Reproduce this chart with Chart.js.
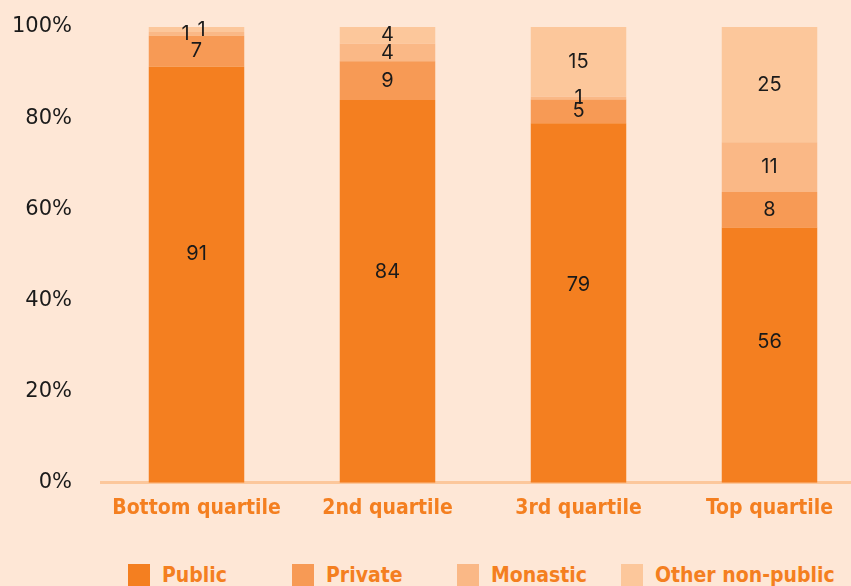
<!DOCTYPE html>
<html>
<head>
<meta charset="utf-8">
<script src="https://cdn.jsdelivr.net/npm/chart.js@4"></script>
<style>
  html, body { margin: 0; padding: 0; background: #fee7d6; overflow: hidden; width: 851px; height: 586px; }
  #wrap { position: absolute; left: 0; top: 0; width: 865px; height: 534px; }
  #legend { position: absolute; top: 564px; left: 0; width: 851px; height: 30px; }
  .item { position: absolute; top: 0; display: flex; align-items: center; height: 22px;
          font-family: "DejaVu Sans Condensed", Roboto, sans-serif; font-weight: 700; font-size: 21px; color: #f47f20; white-space: nowrap; }
  .box { width: 22px; height: 22px; margin-right: 12px; }
</style>
</head>
<body>
<div id="wrap"><canvas id="c"></canvas></div>
<div id="legend"></div>
<script>
const categories = ["Bottom quartile", "2nd quartile", "3rd quartile", "Top quartile"];
const seriesNames = ["Public", "Private", "Monastic", "Other non-public"];
const publicVals = [91.3, 84.0, 78.9, 56.0];
const privateVals = [6.8, 8.5, 5.2, 7.8];
const monasticVals = [0.8, 3.8, 0.6, 10.9];
const otherVals = [1.1, 3.7, 15.3, 25.3];
const yTicks = [0, 20, 40, 60, 80, 100];
const colors = ["#f47f20", "#f79a55", "#fab886", "#fcc79b"];

const seriesData = [publicVals, privateVals, monasticVals, otherVals];

// label x shifts for tiny segments (dataset index-category index)
const labelShift = { "2-0": -11, "3-0": 5 };

const labelPlugin = {
  id: 'segLabels',
  afterDatasetsDraw(chart) {
    const ctx = chart.ctx;
    const yScale = chart.scales.y;
    ctx.save();
    ctx.font = '20px Inter, sans-serif';
    ctx.fillStyle = '#1a1a1a';
    ctx.textAlign = 'center';
    ctx.textBaseline = 'middle';
    chart.data.datasets.forEach((ds, di) => {
      const meta = chart.getDatasetMeta(di);
      meta.data.forEach((el, i) => {
        const v = ds.data[i];
        let y;
        if (di === 0) {
          y = yScale.getPixelForValue(v * 0.55);
        } else {
          y = (el.y + el.base) / 2;
        }
        const x = el.x + (labelShift[di + "-" + i] || 0);
        ctx.fillText(String(Math.round(v)), x, y);
      });
    });
    ctx.restore();
  }
};

new Chart(document.getElementById('c'), {
  type: 'bar',
  data: {
    labels: categories,
    datasets: seriesData.map((d, i) => ({
      label: seriesNames[i],
      data: d,
      backgroundColor: colors[i],
      borderWidth: 0,
      barPercentage: 0.5,
      categoryPercentage: 1.0
    }))
  },
  options: {
    responsive: true,
    maintainAspectRatio: false,
    animation: false,
    layout: { padding: { top: 27, bottom: 0, left: 0, right: 0 } },
    plugins: { legend: { display: false }, tooltip: { enabled: false } },
    scales: {
      x: {
        stacked: true,
        grid: { display: false, drawTicks: false },
        border: { display: true, color: '#fcc79b', width: 3 },
        ticks: { color: '#f47f20', font: { family: '"DejaVu Sans Condensed", Roboto, sans-serif', weight: '700', size: 21 }, padding: 13, maxRotation: 0 }
      },
      y: {
        stacked: true,
        min: 0, max: 100,
        afterBuildTicks(scale) { scale.ticks = yTicks.map(v => ({ value: v })); },
        afterFit(scale) { scale.width = 101; scale.paddingTop = 0; scale.paddingBottom = 0; },
        grid: { display: false, drawTicks: false },
        border: { display: false },
        ticks: { color: '#1a1a1a', font: { family: '"DejaVu Sans", sans-serif', size: 21 }, padding: 29, callback: v => v + '%' }
      }
    }
  },
  plugins: [labelPlugin]
});

// HTML legend
const legend = document.getElementById('legend');
const legendX = [128, 292, 457, 621];
seriesNames.forEach((n, i) => {
  const it = document.createElement('div');
  it.className = 'item';
  it.style.left = legendX[i] + 'px';
  const b = document.createElement('span');
  b.className = 'box';
  b.style.background = colors[i];
  it.appendChild(b);
  it.appendChild(document.createTextNode(n));
  legend.appendChild(it);
});
</script>
</body>
</html>
